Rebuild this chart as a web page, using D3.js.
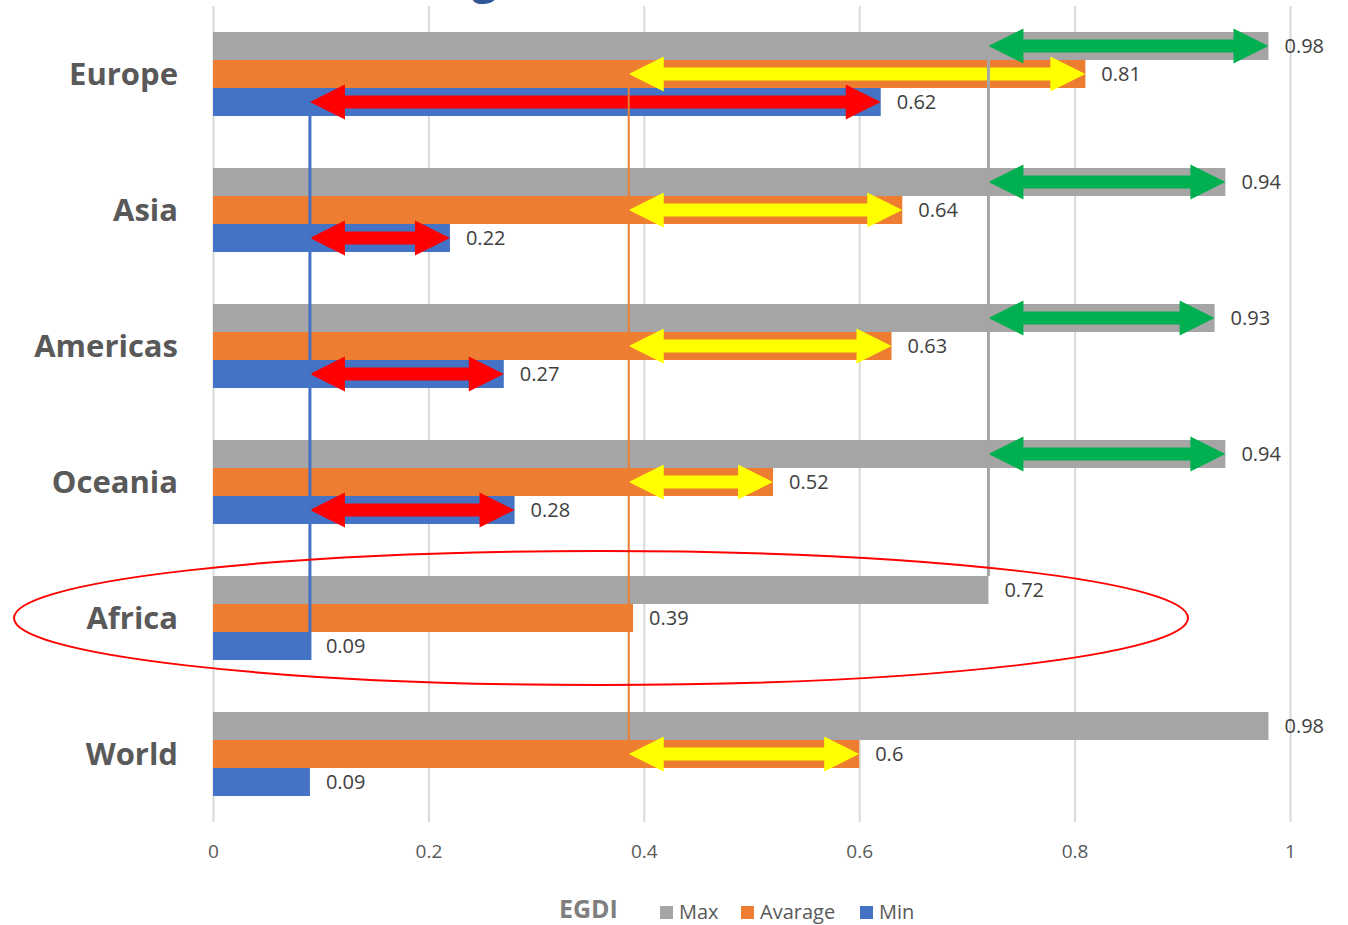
<!DOCTYPE html>
<html><head><meta charset="utf-8">
<script src="https://cdn.jsdelivr.net/npm/d3@7"></script>
<style>body{margin:0;background:#fff}svg{display:block;font-family:"Open Sans",sans-serif}</style>
</head><body><svg id="c" width="1348" height="925"></svg>
<script>
const categories = ["Europe","Asia","Americas","Oceania","Africa","World"];
const seriesNames = ["Max","Avarage","Min"];
const maxValues = [0.98,0.94,0.93,0.94,0.72,0.98];
const avgValues = [0.81,0.64,0.63,0.52,0.39,0.6];
const minValues = [0.62,0.22,0.27,0.28,0.09,0.09];
const xTicks = [0,0.2,0.4,0.6,0.8,1];
const xTickLabels = ["0","0.2","0.4","0.6","0.8","1"];
const legendTitle = "EGDI";
// annotation references (Africa values) and arrows
const refMax = 0.72, refAvg = 0.386, refMin = 0.09;
const arrowsMax = ["Europe","Asia","Americas","Oceania"];
const arrowsAvg = ["Europe","Asia","Americas","Oceania","World"];
const arrowsMin = ["Europe","Asia","Americas","Oceania"];

const colors = {Max:"#a5a5a5", Avarage:"#ed7d31", Min:"#4472c4"};
const seriesData = {Max:maxValues, Avarage:avgValues, Min:minValues};

const svg = d3.select("#c");
const x = d3.scaleLinear().domain([0,1]).range([213,1290]);
const y = d3.scaleBand().domain(categories).range([6,822]).paddingInner(52/136).paddingOuter(26/136);
const ys = d3.scaleBand().domain(seriesNames).range([0,y.bandwidth()]);

// title remnant (clipped at top, as in the reference)
svg.append("text").attr("x",472).attr("y",-7).attr("font-size",44).attr("font-weight","bold")
  .attr("fill","#2f5597").text("g");

// gridlines
const grid = svg.append("g").attr("transform","translate(0,822)")
  .call(d3.axisBottom(x).tickValues(xTicks).tickSize(-816).tickFormat(""));
grid.select(".domain").remove();
grid.selectAll("line").attr("stroke","#d9d9d9").attr("stroke-width",2);

// axis labels
const ax = svg.append("g").attr("transform","translate(0,835)")
  .call(d3.axisBottom(x).tickValues(xTicks).tickSize(0).tickPadding(10).tickFormat((d,i)=>xTickLabels[i]));
ax.select(".domain").remove();
ax.selectAll("text").attr("font-size",19).attr("fill","#595959").attr("font-family","Open Sans, sans-serif");

// bars
const rows = [];
categories.forEach((c,i)=>seriesNames.forEach(s=>rows.push({c,s,v:seriesData[s][i]})));
svg.append("g").selectAll("rect").data(rows).join("rect")
  .attr("x",x(0)).attr("y",d=>y(d.c)+ys(d.s)).attr("width",d=>x(d.v)-x(0)).attr("height",ys.bandwidth())
  .attr("fill",d=>colors[d.s]);

// value labels
svg.append("g").selectAll("text").data(rows).join("text")
  .attr("x",d=>x(d.v)+16).attr("y",d=>y(d.c)+ys(d.s)+ys.bandwidth()/2).attr("dy","0.35em")
  .attr("font-size",20).attr("fill","#404040").text(d=>String(d.v));

// category labels
svg.append("g").selectAll("text").data(categories).join("text")
  .attr("x",178).attr("y",d=>y(d)+y.bandwidth()/2).attr("dy","0.35em").attr("text-anchor","end")
  .attr("font-size",31).attr("font-weight","bold").attr("fill","#595959").text(d=>d);

// arrows
function dblArrow(x1,x2,yc){
  const t=6.5,h=17.5,L=35;
  return `M${x1},${yc} L${x1+L},${yc-h} L${x1+L},${yc-t} L${x2-L},${yc-t} L${x2-L},${yc-h} L${x2},${yc} L${x2-L},${yc+h} L${x2-L},${yc+t} L${x1+L},${yc+t} L${x1+L},${yc+h} Z`;
}
const arrowSets = [
  {cats:arrowsMax, s:"Max", ref:refMax, col:"#00b050"},
  {cats:arrowsAvg, s:"Avarage", ref:refAvg, col:"#ffff00"},
  {cats:arrowsMin, s:"Min", ref:refMin, col:"#ff0000"}
];
const ag = svg.append("g");
arrowSets.forEach(a=>{
  a.cats.forEach(c=>{
    const i = categories.indexOf(c);
    const v = seriesData[a.s][i];
    const yc = y(c)+ys(a.s)+ys.bandwidth()/2;
    ag.append("path").attr("d",dblArrow(x(a.ref),x(v),yc)).attr("fill",a.col);
  });
});

// reference vertical lines
const vl = svg.append("g");
vl.append("line").attr("x1",x(refMin)).attr("x2",x(refMin))
  .attr("y1",y("Europe")+ys("Min")+ys.bandwidth()).attr("y2",y("Africa")+ys("Min")+ys.bandwidth())
  .attr("stroke",colors.Min).attr("stroke-width",3);
vl.append("line").attr("x1",x(refAvg)).attr("x2",x(refAvg))
  .attr("y1",y("Europe")+ys("Avarage")).attr("y2",y("World")+ys("Avarage"))
  .attr("stroke",colors.Avarage).attr("stroke-width",2);
vl.append("line").attr("x1",x(refMax)).attr("x2",x(refMax))
  .attr("y1",y("Europe")+ys("Avarage")).attr("y2",y("Africa"))
  .attr("stroke",colors.Max).attr("stroke-width",3);

// red ellipse around Africa
svg.append("ellipse").attr("cx",601).attr("cy",y("Africa")+y.bandwidth()/2).attr("rx",587).attr("ry",67)
  .attr("fill","none").attr("stroke","#ff0000").attr("stroke-width",2);

// legend
const lg = svg.append("g");
lg.append("text").attr("x",559).attr("y",918).attr("font-size",25).attr("font-weight","bold")
  .attr("fill","#7f7f7f").text(legendTitle);
const legX = [660,741,860];
seriesNames.forEach((s,i)=>{
  lg.append("rect").attr("x",legX[i]).attr("y",906).attr("width",13).attr("height",13).attr("fill",colors[s]);
  lg.append("text").attr("x",legX[i]+19).attr("y",919).attr("font-size",20).attr("fill","#595959").text(s);
});
</script></body></html>
